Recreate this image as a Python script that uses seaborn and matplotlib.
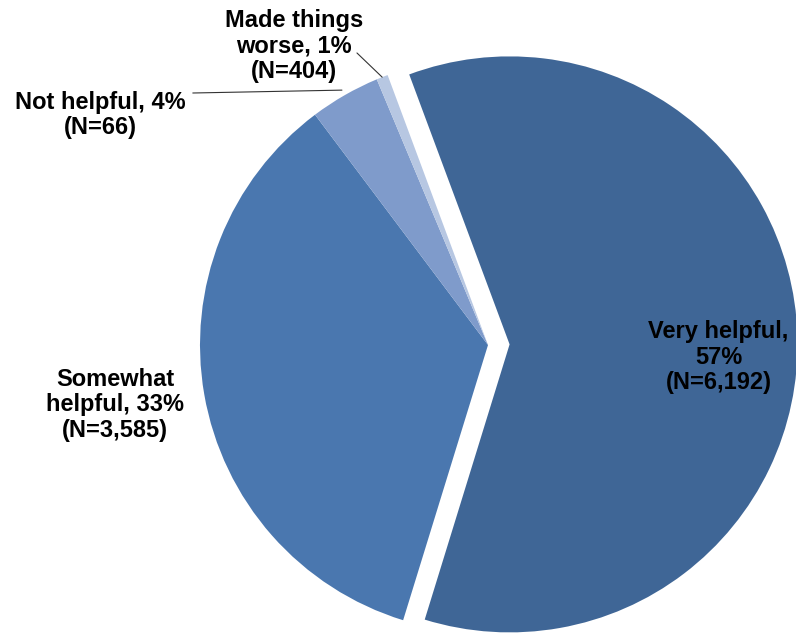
import matplotlib
matplotlib.use('Agg')
import matplotlib.pyplot as plt
import seaborn as sns
import numpy as np

# Response categories, drawn clockwise from the top
categories = ['Very helpful', 'Somewhat helpful', 'Not helpful', 'Made things worse']
counts = [6192, 3585, 404, 66]
labels = ['Very helpful,\n57%\n(N=6,192)',
          'Somewhat\nhelpful, 33%\n(N=3,585)',
          'Not helpful, 4%\n(N=66)',
          'Made things\nworse, 1%\n(N=404)']
colors = ['#3F6696', '#4A77AF', '#7F9BCB', '#B7C7E2']

sns.set_theme(style='white')
plt.rcParams['font.family'] = ['Liberation Sans', 'DejaVu Sans']

fig = plt.figure(figsize=(7.96, 6.37), dpi=100)
ax = fig.add_axes([0, 0, 1, 1])

wedges, _ = ax.pie(counts, colors=colors, startangle=110.4, counterclock=False,
                   explode=[0.075, 0, 0, 0], radius=1,
                   wedgeprops=dict(linewidth=0))

ax.set_xlim(-488 / 288, (796 - 488) / 288)
ax.set_ylim(-(637 - 345) / 288, 345 / 288)
ax.set_aspect('auto')
ax.axis('off')

font = dict(fontsize=17, fontweight='bold', color='black', ha='center', va='center',
            linespacing=1.12)

ax.text(0.80, -0.042, labels[0], **font)
ax.text(-1.295, -0.208, labels[1], **font)
ax.text(-1.347, 0.799, labels[2], **font)
ax.text(-0.674, 1.038, labels[3], **font)

# leader lines from the small slices to their labels
def wedge_point(w, r=1.0):
    mid = np.deg2rad((w.theta1 + w.theta2) / 2)
    return r * np.cos(mid), r * np.sin(mid)

px, py = wedge_point(wedges[2], 1.02)
ax.plot([-1.025, px], [0.875, py], color='#333333', lw=0.8)
px, py = wedge_point(wedges[3], 1.0)
ax.plot([-0.455, px], [1.014, py], color='#333333', lw=0.8)

fig.savefig('out.png', dpi=100, facecolor='white')
